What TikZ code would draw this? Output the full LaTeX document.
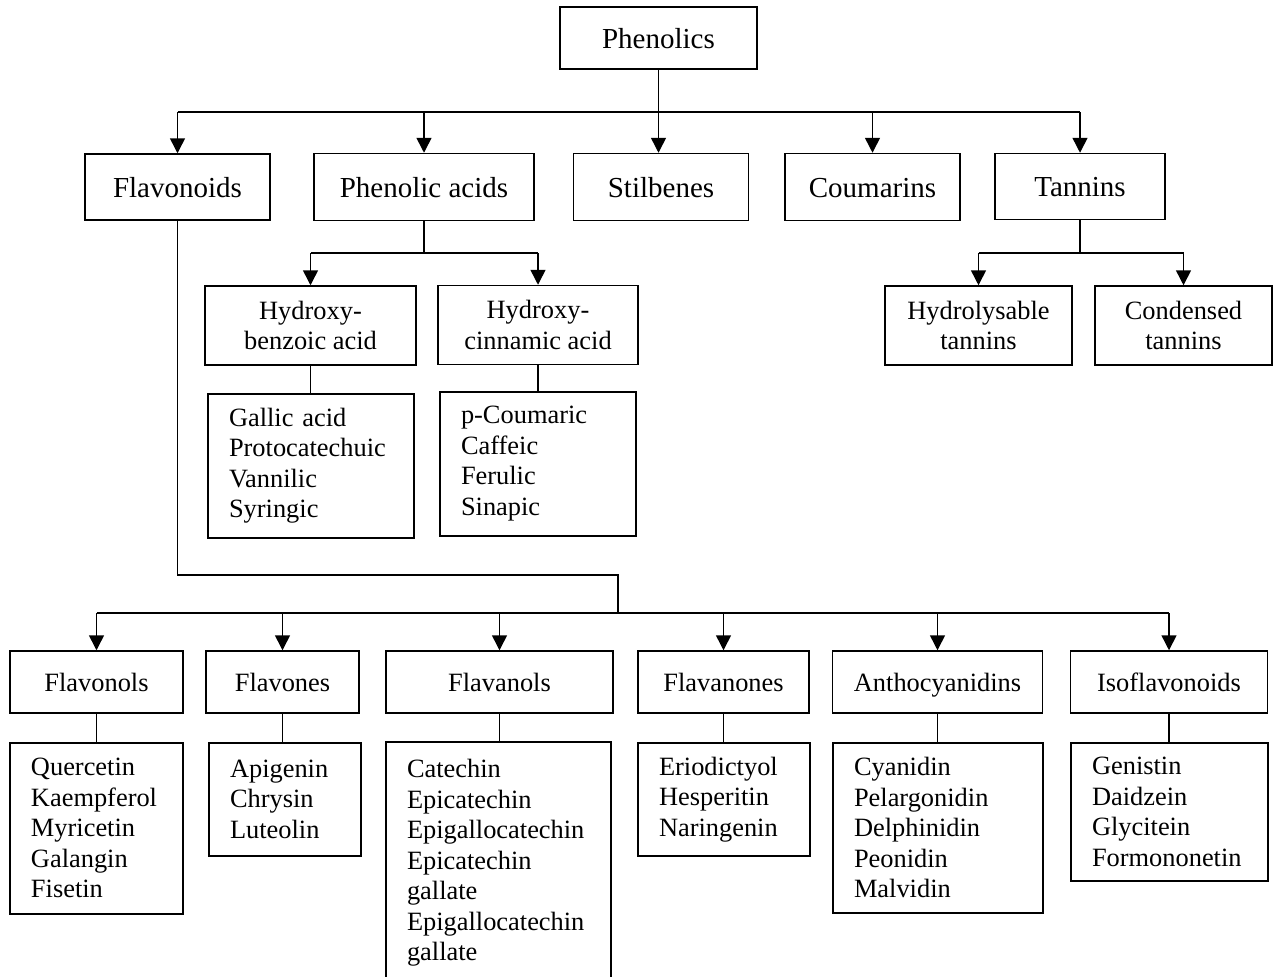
\documentclass[tikz,border=0pt]{standalone}
\usepackage{fontspec}
\setmainfont{Liberation Serif}
\usetikzlibrary{arrows.meta}
\begin{document}
\begin{tikzpicture}[x=0.5pt,y=-0.5pt,
  every path/.style={line width=0.75pt},
  topbox/.style={draw, line width=0.75pt, inner sep=0pt, align=center, text height=10pt, text depth=0pt, font=\fontsize{14.5}{17}\selectfont},
  midbox/.style={draw, line width=0.75pt, inner sep=0pt, align=center, font=\fontsize{13.2}{15.25}\selectfont},
  onebox/.style={midbox, text height=9.3pt, text depth=0pt},
  listbox/.style={draw, line width=0.75pt, anchor=north, inner xsep=10.5pt, inner ysep=0pt, align=left, font=\fontsize{13.2}{15.25}\selectfont},
  arr/.style={-{Triangle[width=7.5pt,length=7.5pt]}}]
\useasboundingbox (0,0) rectangle (1278,976);

% top
\node[topbox, minimum width=98.5pt, minimum height=31pt] (phen) at (658.5,38) {Phenolics};
% second row
\node[topbox, minimum width=92.5pt, minimum height=33pt] (flav) at (177.5,187) {Flavonoids};
\node[topbox, minimum width=110pt, minimum height=33.5pt] (pacid) at (424,187) {Phenolic acids};
\node[topbox, minimum width=87.5pt, minimum height=33.5pt] (stil) at (661,187) {Stilbenes};
\node[topbox, minimum width=87.5pt, minimum height=33.5pt] (coum) at (872.5,187) {Coumarins};
\node[topbox, minimum width=85pt, minimum height=33pt] (tann) at (1080,186.5) {Tannins};

% third row
\node[midbox, minimum width=105.5pt, minimum height=39.5pt] (hben) at (310.5,325.5) {Hydroxy-\\benzoic acid};
\node[midbox, minimum width=100pt, minimum height=39.5pt] (hcin) at (538,325) {Hydroxy-\\cinnamic acid};
\node[midbox, minimum width=93.5pt, minimum height=39.5pt] (hyd) at (978.5,325.5) {Hydrolysable\\tannins};
\node[midbox, minimum width=88.5pt, minimum height=39.5pt] (cond) at (1183.5,325.5) {Condensed\\tannins};

\node[listbox, text width=82pt, minimum height=72pt] (gal) at (311,393) {Gallic acid\\Protocatechuic\\Vannilic\\Syringic};
\node[listbox, text width=77pt, minimum height=72pt] (pcou) at (538,391) {p-Coumaric\\Caffeic\\Ferulic\\Sinapic};

% flavonoid subclasses
\node[onebox, minimum width=86.5pt, minimum height=31pt] (fnols) at (96.5,682) {Flavonols};
\node[onebox, minimum width=76.5pt, minimum height=31pt] (fnes) at (282.5,682) {Flavones};
\node[onebox, minimum width=113.5pt, minimum height=31pt] (fanols) at (499.5,682) {Flavanols};
\node[onebox, minimum width=85.5pt, minimum height=31pt] (fanones) at (723.5,682) {Flavanones};
\node[onebox, minimum width=105pt, minimum height=31pt] (antho) at (937.5,682) {Anthocyanidins};
\node[onebox, minimum width=98.5pt, minimum height=31pt] (iso) at (1169,682) {Isoflavonoids};

\node[listbox, text width=65.5pt, minimum height=85.5pt] (l1) at (96.5,742) {Quercetin\\Kaempferol\\Myricetin\\Galangin\\Fisetin};
\node[listbox, text width=55pt, minimum height=56.5pt] (l2) at (285,742) {Apigenin\\Chrysin\\Luteolin};
\node[listbox, text width=91.5pt, minimum height=121pt] (l3) at (498.5,741) {Catechin\\Epicatechin\\Epigallocatechin\\Epicatechin\\gallate\\Epigallocatechin\\gallate};
\node[listbox, text width=65pt, minimum height=56.5pt] (l4) at (724,742) {Eriodictyol\\Hesperitin\\Naringenin};
\node[listbox, text width=84pt, minimum height=85pt] (l5) at (938,742) {Cyanidin\\Pelargonidin\\Delphinidin\\Peonidin\\Malvidin};
\node[listbox, text width=77.5pt, minimum height=69pt] (l6) at (1169.5,742) {Genistin\\Daidzein\\Glycitein\\Formononetin};

% connectors: level 1
\coordinate (b1) at (0,112);
\draw (flav.north |- b1) -- (tann.north |- b1);
\draw[arr] (phen.south) -- (phen.south |- stil.north);
\foreach \n in {flav,pacid,coum,tann} \draw[arr] (\n.north |- b1) -- (\n.north);

% phenolic acids
\coordinate (b2) at (0,253);
\draw (pacid.south) -- (pacid.south |- b2);
\draw (hben.north |- b2) -- (hcin.north |- b2);
\foreach \n in {hben,hcin} \draw[arr] (\n.north |- b2) -- (\n.north);
\draw (hben.south) -- (hben.south |- gal.north);
\draw (hcin.south) -- (hcin.south |- pcou.north);

% tannins
\draw (tann.south) -- (tann.south |- b2);
\draw (hyd.north |- b2) -- (cond.north |- b2);
\foreach \n in {hyd,cond} \draw[arr] (\n.north |- b2) -- (\n.north);

% flavonoids
\coordinate (c1) at (618,575);
\coordinate (b4) at (0,613);
\draw (flav.south) -- (flav.south |- c1) -- (c1) -- (c1 |- b4);
\draw (fnols.north |- b4) -- (iso.north |- b4);
\foreach \n in {fnols,fnes,fanols,fanones,antho,iso} \draw[arr] (\n.north |- b4) -- (\n.north);
\draw (fnols.south) -- (fnols.south |- l1.north);
\draw (fnes.south) -- (fnes.south |- l2.north);
\draw (fanols.south) -- (fanols.south |- l3.north);
\draw (fanones.south) -- (fanones.south |- l4.north);
\draw (antho.south) -- (antho.south |- l5.north);
\draw (iso.south) -- (iso.south |- l6.north);
\end{tikzpicture}
\end{document}
